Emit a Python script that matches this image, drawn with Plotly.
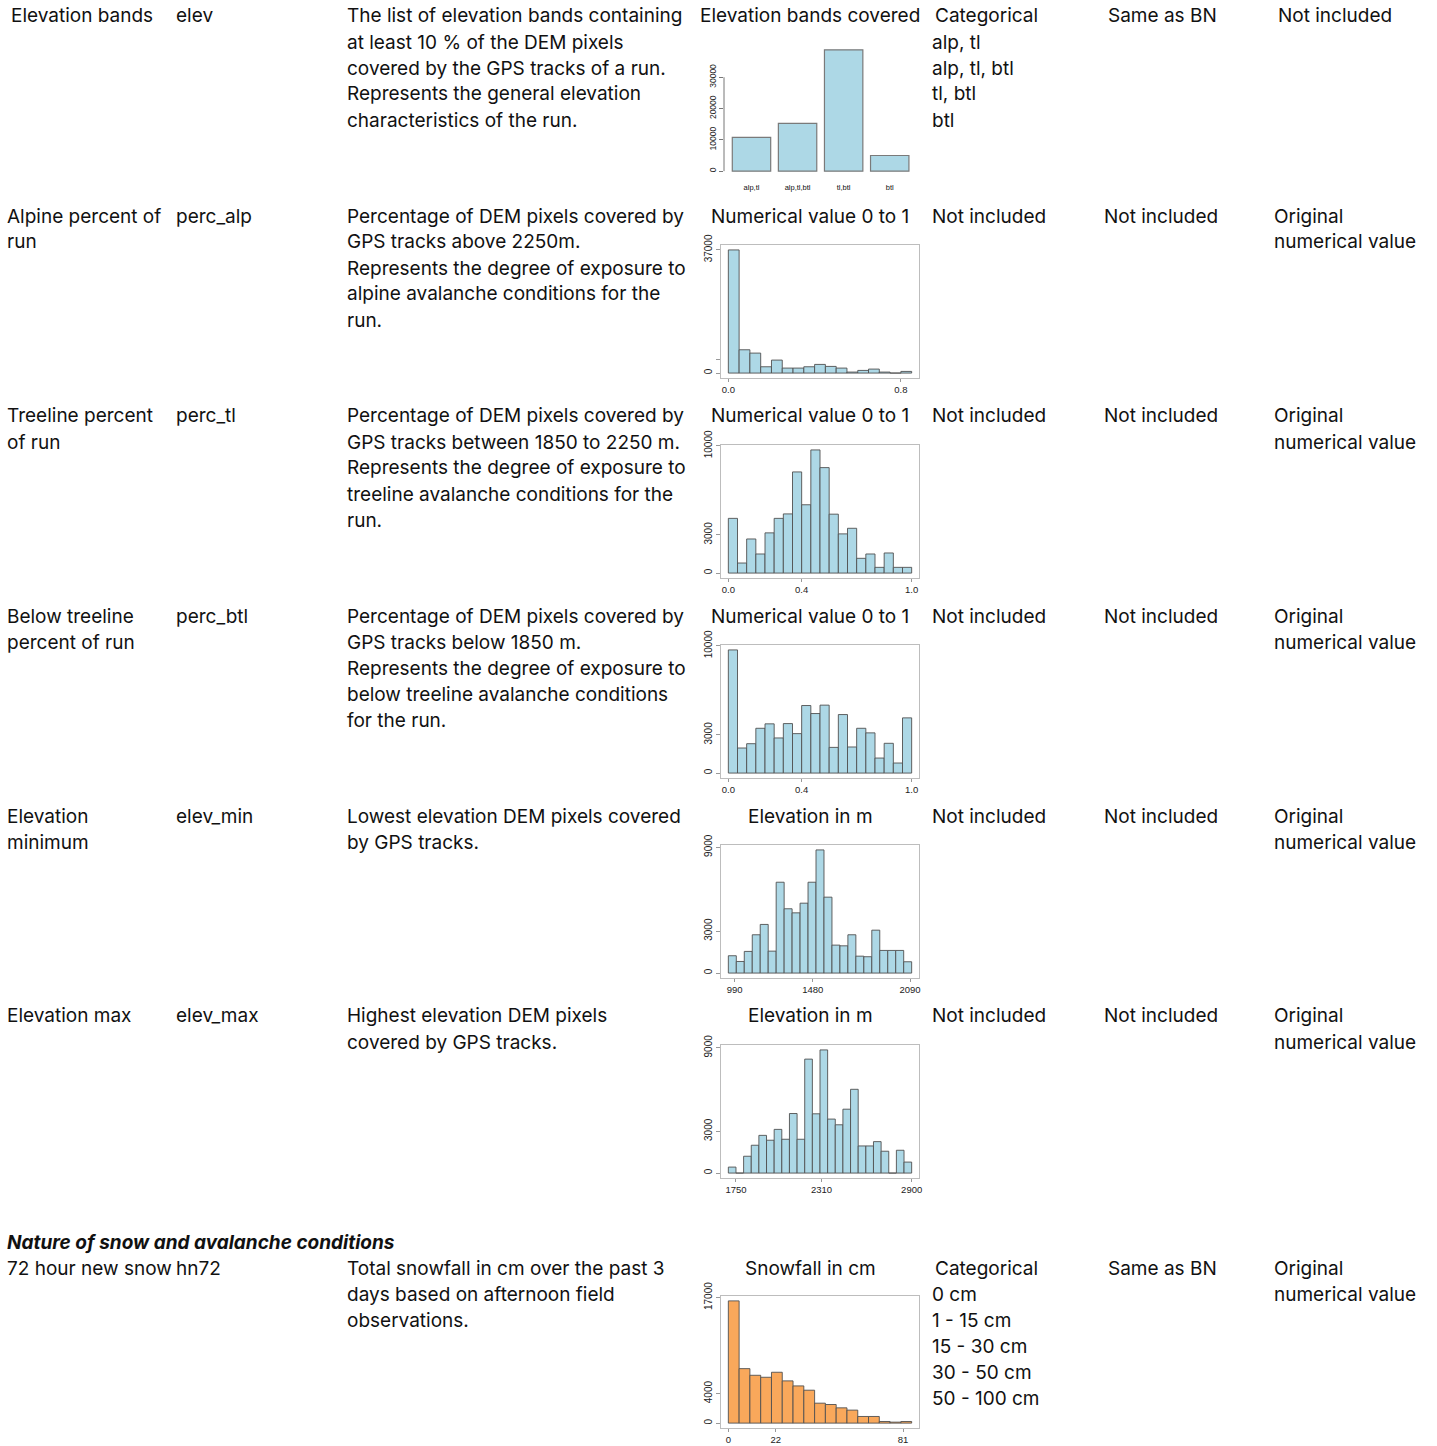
import plotly.graph_objects as go

PAGE_W, PAGE_H = 1437, 1446
BODY = 0  # body margin removed via post_script below
W, H = PAGE_W - 2 * BODY, PAGE_H - 2 * BODY
FONT = "Inter"
FSIZE = 19
TXT = "#111111"
BLUE = "#ADD8E6"
ORANGE = "#F9A85B"

# ---------------- chart data ----------------
elev_cats = ["alp,tl", "alp,tl,btl", "tl,btl", "btl"]
elev_counts = [10800, 15250, 38750, 5000]
elev_yticks = [0, 10000, 20000, 30000]

perc_alp_start, perc_alp_width = 0.0, 0.05
perc_alp_counts = [37000, 7000, 6000, 1900, 3900, 1500, 1500, 1900, 2600, 2000,
                   1500, 300, 800, 1200, 300, 0, 500]
perc_alp_xticks = [0.0, 0.8]
perc_alp_xlabels = ["0.0", "0.8"]
perc_alp_yticks = [0, 4000, 37000]
perc_alp_ylabels = ["0", "", "37000"]

perc_tl_start, perc_tl_width = 0.0, 0.05
perc_tl_counts = [4300, 790, 2680, 1500, 3160, 4300, 4650, 7950, 5370, 9680,
                  8290, 4630, 3080, 3520, 1160, 1500, 450, 1580, 450, 450]
perc_tl_xticks = [0.0, 0.4, 1.0]
perc_tl_xlabels = ["0.0", "0.4", "1.0"]
perc_tl_yticks = [0, 3000, 10000]

perc_btl_start, perc_btl_width = 0.0, 0.05
perc_btl_counts = [9680, 1970, 2310, 3520, 3870, 2760, 3890, 3100, 5310, 4680,
                   5340, 2020, 4600, 2050, 3520, 3160, 1180, 2340, 790, 4340]
perc_btl_xticks = [0.0, 0.4, 1.0]
perc_btl_xlabels = ["0.0", "0.4", "1.0"]
perc_btl_yticks = [0, 3000, 10000]

elev_min_start, elev_min_width = 950, 50
elev_min_counts = [1240, 830, 1550, 2740, 3480, 1570, 6500, 4600, 4310, 5000,
                   6500, 8810, 5430, 2000, 1950, 2740, 1210, 1170, 3070, 1620,
                   1620, 1620, 810]
elev_min_xticks = [990, 1480, 2090]
elev_min_yticks = [0, 3000, 9000]

elev_max_start, elev_max_width = 1700, 50
elev_max_counts = [430, 0, 1210, 2000, 2710, 2360, 3140, 2430, 4280, 2430,
                   8190, 4260, 8850, 3880, 3470, 4590, 6020, 1950, 1950, 2260,
                   1570, 0, 1640, 790]
elev_max_xticks = [1750, 2310, 2900]
elev_max_yticks = [0, 3000, 9000]

hn72_start, hn72_width = 0, 5
hn72_counts = [16560, 7380, 6480, 6210, 6890, 5720, 5040, 4460, 2700, 2520,
               2070, 1760, 900, 900, 220, 130, 220]
hn72_xticks = [0, 22, 81]
hn72_yticks = [0, 4000, 17000]

# ---------------- table text ----------------
row_y = [16, 216, 416, 616, 816, 1016, 1268]
names = [["Elevation bands"], ["Alpine percent of", "run"], ["Treeline percent", "of run"],
         ["Below treeline", "percent of run"], ["Elevation", "minimum"], ["Elevation max"],
         ["72 hour new snow"]]
codes = ["elev", "perc_alp", "perc_tl", "perc_btl", "elev_min", "elev_max", "hn72"]
descriptions = [
    ["The list of elevation bands containing", "at least 10 % of the DEM pixels",
     "covered by the GPS tracks of a run.", "Represents the general elevation",
     "characteristics of the run."],
    ["Percentage of DEM pixels covered by", "GPS tracks above 2250m.",
     "Represents the degree of exposure to", "alpine avalanche conditions for the", "run."],
    ["Percentage of DEM pixels covered by", "GPS tracks between 1850 to 2250 m.",
     "Represents the degree of exposure to", "treeline avalanche conditions for the", "run."],
    ["Percentage of DEM pixels covered by", "GPS tracks below 1850 m.",
     "Represents the degree of exposure to", "below treeline avalanche conditions", "for the run."],
    ["Lowest elevation DEM pixels covered", "by GPS tracks."],
    ["Highest elevation DEM pixels", "covered by GPS tracks."],
    ["Total snowfall in cm over the past 3", "days based on afternoon field", "observations."],
]
chart_titles = ["Elevation bands covered", "Numerical value 0 to 1", "Numerical value 0 to 1",
                "Numerical value 0 to 1", "Elevation in m", "Elevation in m", "Snowfall in cm"]
col5 = [["Categorical", "alp, tl", "alp, tl, btl", "tl, btl", "btl"],
        ["Not included"], ["Not included"], ["Not included"], ["Not included"], ["Not included"],
        ["Categorical", "0 cm", "1 - 15 cm", "15 - 30 cm", "30 - 50 cm", "50 - 100 cm"]]
col6 = [["Same as BN"], ["Not included"], ["Not included"], ["Not included"],
        ["Not included"], ["Not included"], ["Same as BN"]]
col7 = [["Not included"], ["Original", "numerical value"], ["Original", "numerical value"],
        ["Original", "numerical value"], ["Original", "numerical value"],
        ["Original", "numerical value"], ["Original", "numerical value"]]
section_title = "Nature of snow and avalanche conditions"
section_y = 1242

LINE = 26


def fx(px):
    return (px - BODY) / W


def fy(py):
    return 1 - (py - BODY) / H


annotations = []


def add_text(text, px, py, anchor="left", bold=False, italic=False):
    t = text
    if bold:
        t = "<b>" + t + "</b>"
    if italic:
        t = "<i>" + t + "</i>"
    xpos = px - 2 if anchor == "left" else px
    annotations.append(dict(text=t, x=fx(xpos), y=fy(py), xref="paper", yref="paper",
                            xanchor=anchor, yanchor="middle", showarrow=False,
                            font=dict(family=FONT, size=FSIZE, color=TXT)))


for i, y0 in enumerate(row_y):
    first = (i == 0)
    for j, line in enumerate(names[i]):
        add_text(line, 11 if first else 7, y0 + j * LINE)
    add_text(codes[i], 176, y0)
    for j, line in enumerate(descriptions[i]):
        add_text(line, 347, y0 + j * LINE)
    add_text(chart_titles[i], 810, y0, anchor="center")
    for j, line in enumerate(col5[i]):
        x5 = 935 if line == "Categorical" else 932
        add_text(line, x5, y0 + j * LINE)
    for j, line in enumerate(col6[i]):
        add_text(line, 1108 if line == "Same as BN" else 1104, y0 + j * LINE)
    for j, line in enumerate(col7[i]):
        add_text(line, 1278 if first else 1274, y0 + j * LINE)

add_text(section_title, 7, section_y, bold=True, italic=True)

fig = go.Figure()
layout = dict(width=W, height=H, margin=dict(l=0, r=0, t=0, b=0, autoexpand=False),
              paper_bgcolor="white", plot_bgcolor="white", showlegend=False,
              bargap=0, annotations=annotations, hovermode=False)

# ---------------- chart 1 : barplot ----------------
bar_x = [0.7 + 1.2 * k for k in range(len(elev_cats))]
fig.add_trace(go.Bar(x=bar_x, y=elev_counts, width=1.0, marker=dict(color=BLUE,
                     line=dict(color="#7a7a7a", width=1.2)), xaxis="x", yaxis="y"))
ymax1 = max(elev_counts)
layout["xaxis"] = dict(domain=[fx(724), fx(916)], range=[-0.016, 4.984], anchor="y",
                       tickvals=bar_x, ticktext=elev_cats, ticks="", showline=False,
                       showgrid=False, zeroline=False, ticklabelstandoff=5,
                       tickfont=dict(family="Liberation Sans", size=7.5, color="#111"))
layout["yaxis"] = dict(domain=[fy(176), fy(45)], range=[-0.04 * ymax1, 1.04 * ymax1],
                       anchor="x", tickvals=elev_yticks, ticktext=[str(v) for v in elev_yticks],
                       ticks="outside", ticklen=4, tickcolor="#777", tickangle=-90,
                       showline=False, showgrid=False, zeroline=False,
                       tickfont=dict(family="Liberation Sans", size=8.5, color="#222"))
shapes = [dict(type="line", xref="x domain", yref="y", x0=0, x1=0,
               y0=elev_yticks[0], y1=elev_yticks[-1], line=dict(color="#777", width=1))]

# ---------------- histograms ----------------
hists = [
    (perc_alp_start, perc_alp_width, perc_alp_counts, perc_alp_xticks, perc_alp_xlabels,
     perc_alp_yticks, perc_alp_ylabels, BLUE, 245, 378),
    (perc_tl_start, perc_tl_width, perc_tl_counts, perc_tl_xticks, perc_tl_xlabels,
     perc_tl_yticks, None, BLUE, 445, 578),
    (perc_btl_start, perc_btl_width, perc_btl_counts, perc_btl_xticks, perc_btl_xlabels,
     perc_btl_yticks, None, BLUE, 645, 778),
    (elev_min_start, elev_min_width, elev_min_counts, elev_min_xticks, None,
     elev_min_yticks, None, BLUE, 845, 978),
    (elev_max_start, elev_max_width, elev_max_counts, elev_max_xticks, None,
     elev_max_yticks, None, BLUE, 1045, 1178),
    (hn72_start, hn72_width, hn72_counts, hn72_xticks, None,
     hn72_yticks, None, ORANGE, 1296, 1428),
]

for k, (start, width, counts, xt, xl, yt, yl, col, top, bot) in enumerate(hists):
    n = k + 2
    centers = [start + width * (i + 0.5) for i in range(len(counts))]
    fig.add_trace(go.Bar(x=centers, y=counts, width=width,
                         marker=dict(color=col, line=dict(color="#505050", width=0.9)),
                         xaxis="x%d" % n, yaxis="y%d" % n))
    end = start + width * len(counts)
    span = end - start
    ymax = max(counts)
    tickfont = dict(family="Liberation Sans", size=10, color="#222")
    layout["xaxis%d" % n] = dict(
        domain=[fx(721), fx(919)], range=[start - 0.04 * span, end + 0.04 * span],
        anchor="y%d" % n, tickvals=xt, ticktext=xl if xl else [str(v) for v in xt],
        ticks="outside", ticklen=3, tickcolor="#999", showline=True, mirror=True,
        linecolor="#bdbdbd", linewidth=1, showgrid=False, zeroline=False,
        tickfont=dict(family="Liberation Sans", size=9.5, color="#222"))
    layout["yaxis%d" % n] = dict(
        domain=[fy(bot), fy(top)], range=[-0.04 * ymax, 1.04 * ymax],
        anchor="x%d" % n, tickvals=yt, ticktext=yl if yl else [str(v) for v in yt],
        ticks="outside", ticklen=4, tickcolor="#999", tickangle=-90, showline=True,
        mirror=True, linecolor="#bdbdbd", linewidth=1, showgrid=False, zeroline=False,
        tickfont=tickfont)

layout["shapes"] = shapes
fig.update_layout(**layout)
fig.write_html("out.html", config={"displayModeBar": False, "staticPlot": True},
               post_script="document.body.style.margin='0';document.body.style.overflow='hidden';")
